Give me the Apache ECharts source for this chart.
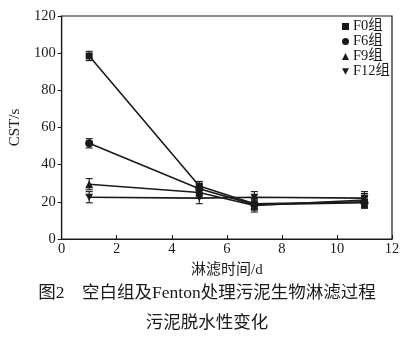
<!DOCTYPE html>
<html>
<head>
<meta charset="utf-8">
<script src="https://cdn.jsdelivr.net/npm/echarts@6/dist/echarts.min.js"></script>
<style>
  html, body { margin: 0; padding: 0; background: #fff; }
  #chart { width: 414px; height: 344px; }
</style>
</head>
<body>
<div id="chart"></div>
<script>
// Leaching time (d)
const days = [1, 5, 7, 11];

// Capillary suction time, CST (s), per treatment group
const seriesNames = ['F0组', 'F6组', 'F9组', 'F12组'];
const cstF0 = [98.5, 28.5, 19.0, 20.0];
const cstF6 = [51.5, 27.0, 18.5, 19.5];
const cstF9 = [29.5, 25.0, 18.0, 21.0];
const cstF12 = [22.5, 22.0, 22.5, 22.0];

// Error bar half-widths (s)
const errF0 = [2.5, 2.5, 3.0, 3.0];
const errF6 = [2.5, 2.5, 3.0, 3.0];
const errF9 = [3.0, 3.0, 3.5, 3.5];
const errF12 = [3.0, 3.0, 3.0, 3.5];

// Axis ticks
const xTicks = [0, 2, 4, 6, 8, 10, 12];
const yTicks = [0, 20, 40, 60, 80, 100, 120];

const captionLine1 = '图2　空白组及Fenton处理污泥生物淋滤过程';
const captionLine2 = '污泥脱水性变化';

const FONT = '"Liberation Serif", "Times New Roman", "Noto Sans CJK SC", serif';
const INK = '#1a1a1a';
const downTri = 'path://M0,0L10,0L5,9Z';
const symbols = ['rect', 'circle', 'triangle', downTri];
const values = [cstF0, cstF6, cstF9, cstF12];
const errors = [errF0, errF6, errF9, errF12];

const chart = echarts.init(document.getElementById('chart'), null, { renderer: 'canvas' });

const lineSeries = seriesNames.map((name, i) => ({
  name,
  type: 'line',
  data: days.map((d, j) => [d, values[i][j]]),
  symbol: symbols[i],
  symbolSize: i === 3 ? [8, 7] : (i === 0 ? 7 : 8),
  showAllSymbol: true,
  lineStyle: { color: INK, width: 1.6 },
  itemStyle: { color: INK },
  z: 3,
  silent: true,
  animation: false
}));

const errorSeries = seriesNames.map((name, i) => ({
  name: name + '-err',
  type: 'custom',
  data: days.map((d, j) => [d, values[i][j] - errors[i][j], values[i][j] + errors[i][j]]),
  renderItem: (params, api) => {
    const lo = api.coord([api.value(0), api.value(1)]);
    const hi = api.coord([api.value(0), api.value(2)]);
    const cap = 3.5;
    const style = { stroke: INK, lineWidth: 1.1 };
    return {
      type: 'group',
      children: [
        { type: 'line', shape: { x1: lo[0], y1: lo[1], x2: hi[0], y2: hi[1] }, style },
        { type: 'line', shape: { x1: lo[0] - cap, y1: lo[1], x2: lo[0] + cap, y2: lo[1] }, style },
        { type: 'line', shape: { x1: hi[0] - cap, y1: hi[1], x2: hi[0] + cap, y2: hi[1] }, style }
      ]
    };
  },
  z: 2,
  silent: true,
  animation: false
}));

chart.setOption({
  animation: false,
  backgroundColor: '#fff',
  textStyle: { fontFamily: FONT },
  grid: { left: 58, right: 22, top: 16, bottom: 105, show: true, borderColor: INK, borderWidth: 1.2 },
  legend: {
    orient: 'vertical',
    left: 340,
    top: 17,
    itemWidth: 7,
    itemHeight: 7,
    itemGap: 0,
    padding: [2, 2, 2, 2],
    selectedMode: false,
    data: seriesNames.map((n, i) => ({ name: n, icon: symbols[i] })),
    textStyle: { fontFamily: FONT, fontSize: 14.5, color: INK, padding: [0, 0, 0, -1], lineHeight: 15 },
    itemStyle: { color: INK }
  },
  xAxis: {
    type: 'value',
    min: xTicks[0],
    max: xTicks[xTicks.length - 1],
    interval: 2,
    name: '淋滤时间/d',
    nameLocation: 'middle',
    nameGap: 24,
    nameTextStyle: { fontFamily: FONT, fontSize: 15, color: INK },
    axisLine: { lineStyle: { color: INK, width: 1.2 } },
    axisTick: { inside: true, length: 4, lineStyle: { color: INK } },
    axisLabel: { fontFamily: FONT, fontSize: 14.5, color: INK, margin: 3 },
    splitLine: { show: false }
  },
  yAxis: {
    type: 'value',
    min: yTicks[0],
    max: yTicks[yTicks.length - 1],
    interval: 20,
    name: 'CST/s',
    nameLocation: 'middle',
    nameGap: 29,
    nameTextStyle: { fontFamily: FONT, fontSize: 15, color: INK },
    axisLine: { lineStyle: { color: INK, width: 1.2 } },
    axisTick: { inside: false, length: 4, lineStyle: { color: INK } },
    axisLabel: { fontFamily: FONT, fontSize: 14.5, color: INK, margin: 6 },
    splitLine: { show: false }
  },
  graphic: [
    {
      type: 'text',
      left: 'center',
      top: 285,
      style: { text: captionLine1, font: '17.5px ' + FONT, fill: INK }
    },
    {
      type: 'text',
      left: 'center',
      top: 315,
      style: { text: captionLine2, font: '17.5px ' + FONT, fill: INK }
    }
  ],
  series: [...errorSeries, ...lineSeries]
});
</script>
</body>
</html>
